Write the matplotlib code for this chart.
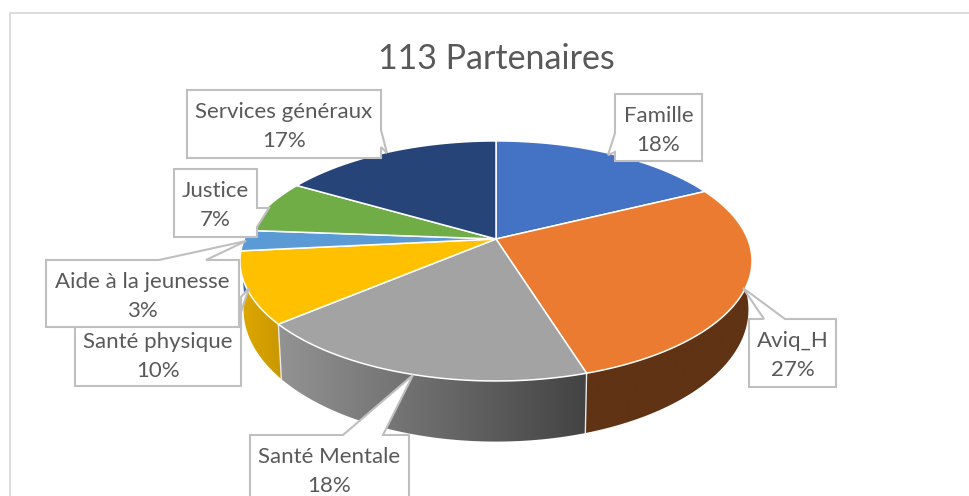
import numpy as np
import matplotlib
matplotlib.use("Agg")
import matplotlib.pyplot as plt
from matplotlib.colors import LinearSegmentedColormap
from matplotlib.patches import Polygon

plt.rcParams['font.family'] = ['Lato', 'DejaVu Sans']

# data
title = "113 Partenaires"
categories = ["Famille", "Aviq_H", "Santé Mentale", "Santé physique",
              "Aide à la jeunesse", "Justice", "Services généraux"]
# printed percentages, and the unrounded shares
labels_pct = [18, 27, 18, 10, 3, 7, 17]
shares = [17.7, 27.5, 18.6, 9.6, 2.8, 7.2, 16.6]
top_colors = ["#4472C4", "#EB7B30", "#A3A3A3", "#FFC000", "#5B9BD5", "#70AD47", "#264478"]

# wall colours, left to right
wall_colors = [("#2A4476", "#2A4476"), ("#603314", "#603314"), ("#939393", "#434343"),
               ("#DFA800", "#C99700"), ("#3F6F9C", "#3F6F9C"), ("#4E7A32", "#4E7A32"),
               ("#1A2F54", "#1A2F54")]

# callouts: box (x0, y0, x1, y1), then the pointer (base a, tip, base b) in pixels
boxes = {
    "Famille": ((615, 94, 702, 161), ((615, 133), (608, 155), (615, 152))),
    "Aviq_H": ((749, 319, 836, 387), ((785, 319), (743, 288), (764, 319))),
    "Santé Mentale": ((250, 435, 409, 510), ((343, 435), (413, 375), (383, 435))),
    "Santé physique": ((75, 320, 241, 386), ((241, 297), (249, 288), (241, 312))),
    "Aide à la jeunesse": ((46, 260, 239, 327), ((159, 260), (246, 241), (206, 260))),
    "Justice": ((174, 169, 257, 237), ((257, 208), (269, 208), (257, 227))),
    "Services généraux": ((187, 90, 381, 158), ((381, 130), (387, 153), (381, 147))),
}
draw_order = ["Santé physique", "Aide à la jeunesse", "Justice", "Services généraux",
              "Famille", "Aviq_H", "Santé Mentale"]

# perspective of the pie
CX, CY = 496, 239
F, G, K = 251.7, 116.0, 0.183


def top_rim(t):
    w = 1 + K * np.cos(t)
    return CX + F * np.sin(t) / w, CY - G * np.cos(t) / w


def bottom_rim(t):
    x, y = top_rim(t)
    return CX + 0.986 * (x - CX), 380 + 1.1 * (y - 325)


fig = plt.figure(figsize=(9.7, 4.96), dpi=100)
ax = fig.add_axes([0, 0, 1, 1])
ax.set_xlim(0, 970)
ax.set_ylim(496, 0)
ax.axis("off")

# chart frame (right and bottom run off the picture)
ax.plot([10, 10, 970], [496, 13, 13], color="#D9D9D9", lw=1.3, zorder=1)

ax.text(496, 59, title, ha="center", va="center", fontsize=24.5, color="#595959", zorder=10)

edges = np.cumsum([0] + shares) / sum(shares) * 2 * np.pi

# side walls
for i in range(len(shares)):
    t = np.linspace(edges[i], edges[i + 1], 80)
    # only the part facing us
    t = t[(t > np.pi / 2 - 0.2) & (t < 3 * np.pi / 2 + 0.2)]
    if len(t) < 2:
        continue
    xt, yt = top_rim(t)
    xb, yb = bottom_rim(t)
    pts = np.column_stack([np.r_[xt, xb[::-1]], np.r_[yt, yb[::-1]]])
    cmap = LinearSegmentedColormap.from_list("w", wall_colors[i])
    im = ax.imshow(np.linspace(0, 1, 256).reshape(1, -1), cmap=cmap, aspect="auto",
                   extent=(pts[:, 0].min(), pts[:, 0].max(), pts[:, 1].max(), pts[:, 1].min()),
                   zorder=2)
    im.set_clip_path(Polygon(pts, closed=True, transform=ax.transData))

# white seams between the visible walls
for e in edges[2:4]:
    xt, yt = top_rim(e)
    xb, yb = bottom_rim(e)
    ax.plot([xt, xb], [yt, yb], color="#E8E8E8", lw=1.0, zorder=3)

ax.set_xlim(0, 970)
ax.set_ylim(496, 0)

# top face
for i in range(len(shares)):
    t = np.linspace(edges[i], edges[i + 1], 120)
    x, y = top_rim(t)
    pts = np.column_stack([np.r_[CX, x], np.r_[CY, y]])
    ax.add_patch(Polygon(pts, closed=True, facecolor=top_colors[i], edgecolor="white",
                         lw=1.1, joinstyle="round", zorder=4))

# callouts
for n, name in enumerate(draw_order):
    (x0, y0, x1, y1), pointer = boxes[name]
    # walk round the box and put the pointer into the side it starts from
    a, tip, b = pointer
    if a[1] == y0 and b[1] == y0:
        pts = [(x0, y0), (min(a[0], b[0]), y0), tip, (max(a[0], b[0]), y0), (x1, y0), (x1, y1), (x0, y1)]
    else:
        pts = [(x0, y0), (x1, y0)] + [a, tip, b] + [(x1, y1), (x0, y1)]
        if a[0] == x0:
            pts = [(x0, y0), (x1, y0), (x1, y1), (x0, y1), b, tip, a]
    ax.add_patch(Polygon(pts, closed=True, facecolor="white", edgecolor="#BFBFBF", lw=1.5,
                         joinstyle="miter", zorder=5 + n * 0.1))
    i = categories.index(name)
    cx = (x0 + x1) / 2
    ax.text(cx, y0 + 22, name, ha="center", va="center", fontsize=16, color="#595959",
            zorder=5.05 + n * 0.1)
    ax.text(cx, y0 + 51, f"{labels_pct[i]}%", ha="center", va="center", fontsize=16, color="#595959",
            zorder=5.05 + n * 0.1)

fig.savefig("out.png", dpi=100)
